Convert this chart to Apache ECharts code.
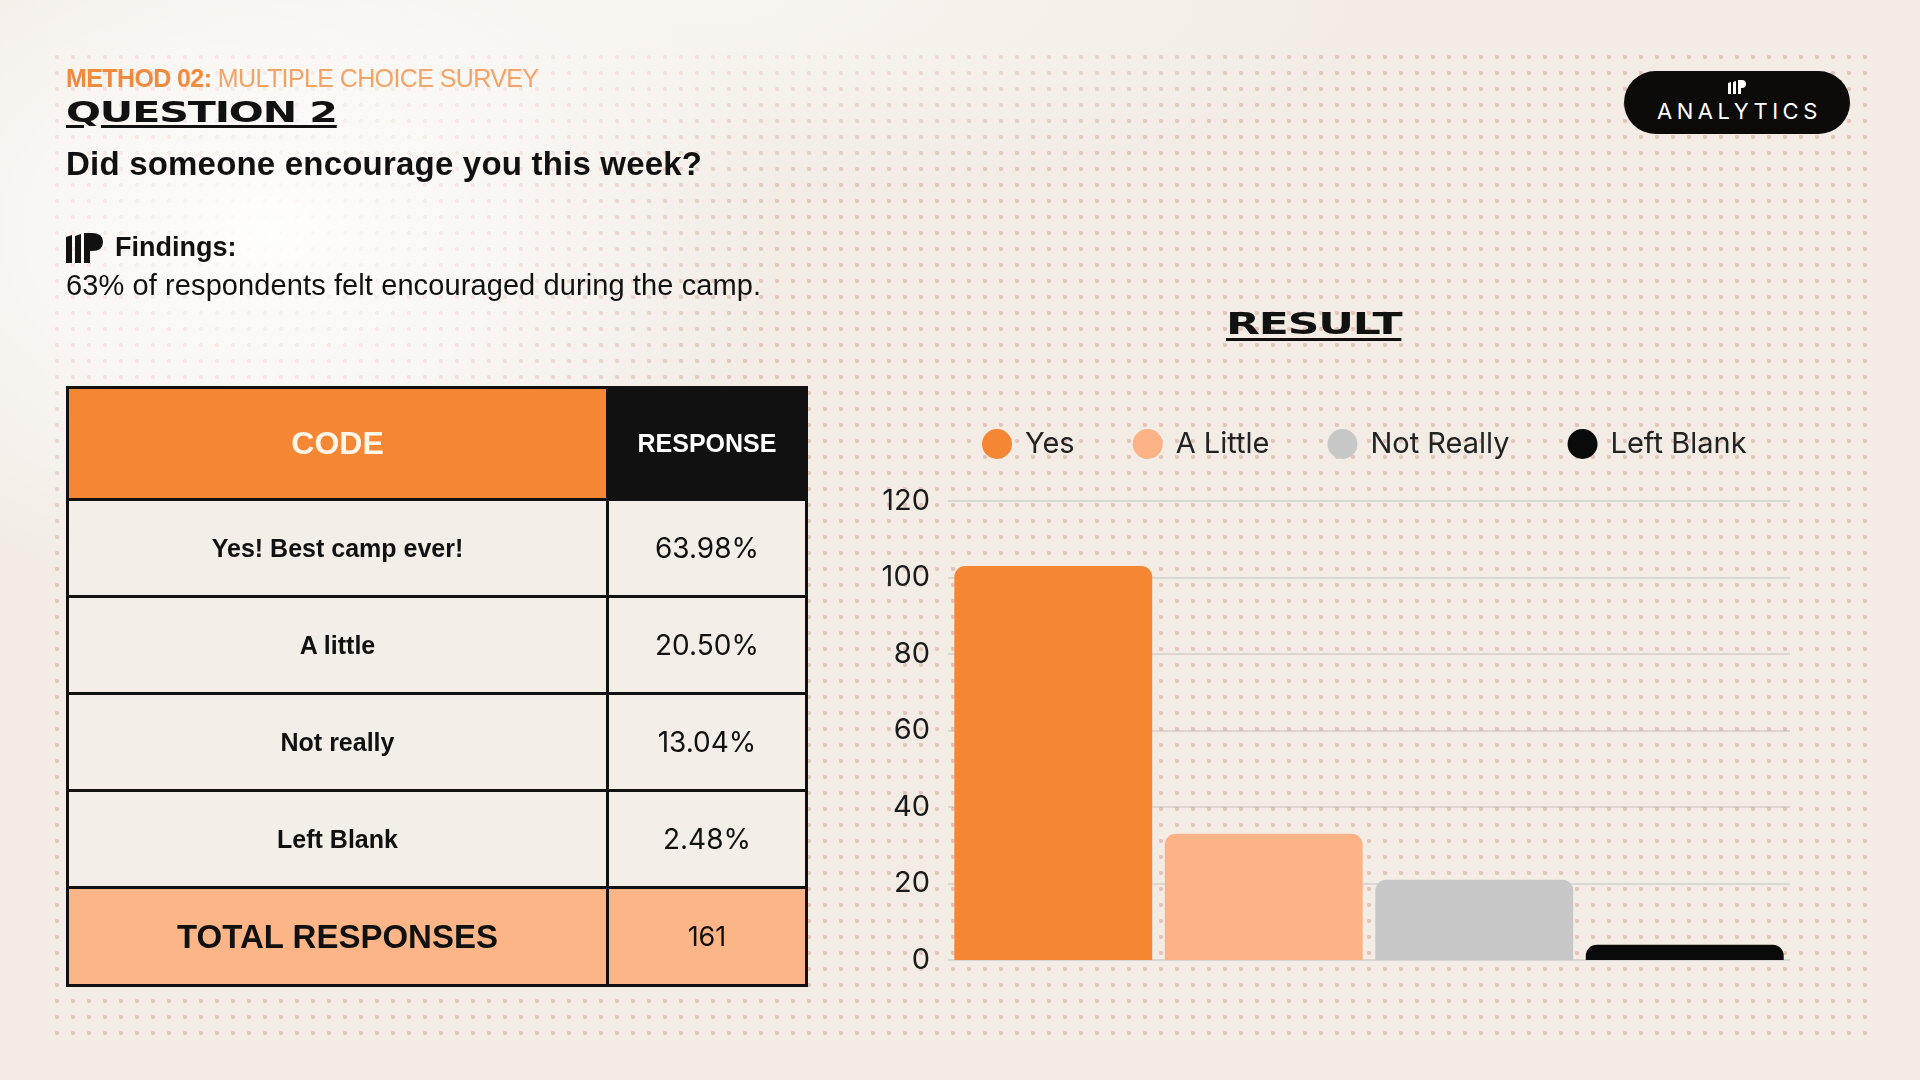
<!DOCTYPE html>
<html>
<head>
<meta charset="utf-8">
<script src="https://cdn.jsdelivr.net/npm/echarts@6/dist/echarts.min.js"></script>
<style>
  html, body { margin:0; padding:0; width:1920px; height:1080px; overflow:hidden; background:#f2ece5; }
  #bg-dots { position:absolute; left:49px; top:49px; width:1822px; height:988px;
    background-image: radial-gradient(circle, rgba(222,160,150,0.55) 1.8px, rgba(222,160,150,0) 2.5px);
    background-size:16px 16px; z-index:0; }
  #glow { position:absolute; left:0; top:0; width:1920px; height:1080px; z-index:0;
    background: radial-gradient(ellipse 520px 380px at 270px 230px, rgba(255,255,255,0.95), rgba(255,255,255,0.55) 45%, rgba(255,255,255,0) 100%),
                radial-gradient(ellipse 700px 200px at 700px 0px, rgba(250,247,243,0.8), rgba(250,247,243,0) 100%); }
  #chart { position:absolute; left:0; top:0; width:1920px; height:1080px; z-index:1; }
  .txt { position:absolute; z-index:2; white-space:nowrap; color:#111; font-family:'Liberation Sans', Arial, sans-serif; }
  #method { left:66px; top:64px; font-size:25px; color:#f4a366; letter-spacing:-0.6px; }
  #method b { color:#f08a3e; }
  #question { left:66px; top:95px; font-family:'DejaVu Sans', sans-serif; font-weight:900; font-size:29px;
    transform:scaleX(1.42); transform-origin:left top; text-decoration:underline; text-decoration-thickness:3px; text-underline-offset:3px; letter-spacing:-0.8px; }
  #ask { left:66px; top:145px; font-size:33px; font-weight:bold; letter-spacing:0.2px; }
  #findings { left:115px; top:232px; font-size:27px; font-weight:bold; }
  #icon { position:absolute; left:66px; top:233px; z-index:2; }
  #summary { left:66px; top:269px; font-size:29px; letter-spacing:0.1px; }
  #result { left:1226px; top:305px; font-family:'DejaVu Sans', sans-serif; font-weight:900; font-size:31px;
    transform:scaleX(1.42); transform-origin:left top; text-decoration:underline; text-decoration-thickness:3px; text-underline-offset:4px; letter-spacing:-0.8px; }
  #badge { position:absolute; left:1624px; top:71px; width:226px; height:63px; border-radius:32px; background:#0d0b0a; z-index:2; }
  #badge span { position:absolute; left:33px; top:27px; color:#fff; font-family:'Inter', sans-serif; font-size:22px; letter-spacing:4.5px; }
  #badge svg { position:absolute; left:104px; top:9px; }
  table { position:absolute; left:66px; top:386px; z-index:2; border-collapse:collapse; border:3px solid #111; }
  td { border:3px solid #111; text-align:center; padding:0; }
  .hcode { background:#f58634; color:#fff6ea; font-family:'Liberation Sans', Arial, sans-serif; font-weight:bold; font-size:32px; height:109px; width:537px; }
  .hresp { background:#111; color:#fff; font-family:'Liberation Sans', Arial, sans-serif; font-weight:bold; font-size:25px; width:196px; }
  .lab { background:#f3eee7; font-family:'Liberation Sans', Arial, sans-serif; font-weight:bold; font-size:25px; height:94px; color:#111; }
  .val { background:#f3eee7; font-family:'Inter', sans-serif; font-size:28px; color:#111; font-weight:400; }
  .tlab { background:#fcb587; font-family:'Liberation Sans', Arial, sans-serif; font-weight:bold; font-size:33px; height:95px; color:#111; }
  .tval { background:#fcb587; font-family:'Inter', sans-serif; font-size:27px; color:#111; }
</style>
</head>
<body>
<div id="bg-dots"></div>
<div id="glow"></div>
<div id="chart"></div>

<div class="txt" id="method"><b>METHOD 02:</b> MULTIPLE CHOICE SURVEY</div>
<div class="txt" id="question">QUESTION 2</div>
<div class="txt" id="ask">Did someone encourage you this week?</div>
<svg id="icon" width="38" height="30" viewBox="0 0 38 30">
  <path d="M0 4 L6 2 L6 30 L0 30 Z" fill="#111"/>
  <path d="M9 3 L15 1 L15 30 L9 30 Z" fill="#111"/>
  <path d="M18 0 L26 0 Q37 0 37 9 Q37 18 26 18 L24 18 L24 30 L18 30 Z" fill="#111"/>
</svg>
<div class="txt" id="findings">Findings:</div>
<div class="txt" id="summary">63% of respondents felt encouraged during the camp.</div>
<div class="txt" id="result">RESULT</div>
<div id="badge">
  <svg width="18" height="14" viewBox="0 0 18 14">
    <path d="M0 3 L3 2 L3 14 L0 14 Z M5 2 L8 1 L8 14 L5 14 Z M10 0 L14 0 Q18 0 18 4 Q18 8 14 8 L13 8 L13 14 L10 14 Z" fill="#fff"/>
  </svg>
  <span>ANALYTICS</span>
</div>
<table id="tbl"></table>

<script>
// ---- data ----
const tableHeaders = ['CODE', 'RESPONSE'];
const codes = ['Yes! Best camp ever!', 'A little', 'Not really', 'Left Blank'];
const percents = ['63.98%', '20.50%', '13.04%', '2.48%'];
const totalLabel = 'TOTAL RESPONSES';
const totalResponses = 161;

const categories = ['Yes', 'A Little', 'Not Really', 'Left Blank'];
const counts = [103, 33, 21, 4];
const colors = ['#f58634', '#fbb385', '#c7c7c7', '#0a0a0a'];
const yTicks = [0, 20, 40, 60, 80, 100, 120];

// ---- table ----
const tbl = document.getElementById('tbl');
let html = '<tr><td class="hcode">' + tableHeaders[0] + '</td><td class="hresp">' + tableHeaders[1] + '</td></tr>';
codes.forEach((c, i) => {
  html += '<tr><td class="lab">' + c + '</td><td class="val">' + percents[i] + '</td></tr>';
});
html += '<tr><td class="tlab">' + totalLabel + '</td><td class="tval">' + totalResponses + '</td></tr>';
tbl.innerHTML = html;

// ---- chart ----
const chart = echarts.init(document.getElementById('chart'), null, { renderer: 'canvas' });
const series = categories.map((name, i) => ({
  name: name,
  type: 'bar',
  stack: 'all',
  barWidth: '94%',
  itemStyle: { color: colors[i], borderRadius: [11, 11, 0, 0] },
  data: categories.map((_, j) => j === i ? counts[i] : '-')
}));
chart.setOption({
  backgroundColor: 'transparent',
  animation: false,
  color: colors,
  legend: {
    left: 977, top: 424,
    itemWidth: 30, itemHeight: 30, itemGap: 58,
    icon: 'circle',
    data: categories,
    textStyle: { fontFamily: 'Inter', fontSize: 29, color: '#222', padding: [0, 0, 0, 8] }
  },
  grid: { left: 948, right: 130, top: 501, bottom: 120 },
  xAxis: {
    type: 'category',
    data: categories,
    axisLine: { show: false },
    axisTick: { show: false },
    axisLabel: { show: false }
  },
  yAxis: {
    type: 'value',
    min: yTicks[0], max: yTicks[yTicks.length - 1], interval: yTicks[1] - yTicks[0],
    axisLine: { show: false },
    axisTick: { show: false },
    axisLabel: { fontFamily: 'Inter', fontSize: 29, color: '#1a1a1a', margin: 18 },
    splitLine: { lineStyle: { color: 'rgba(150,150,150,0.35)', width: 1.5 } }
  },
  series: series
});
</script>
</body>
</html>
